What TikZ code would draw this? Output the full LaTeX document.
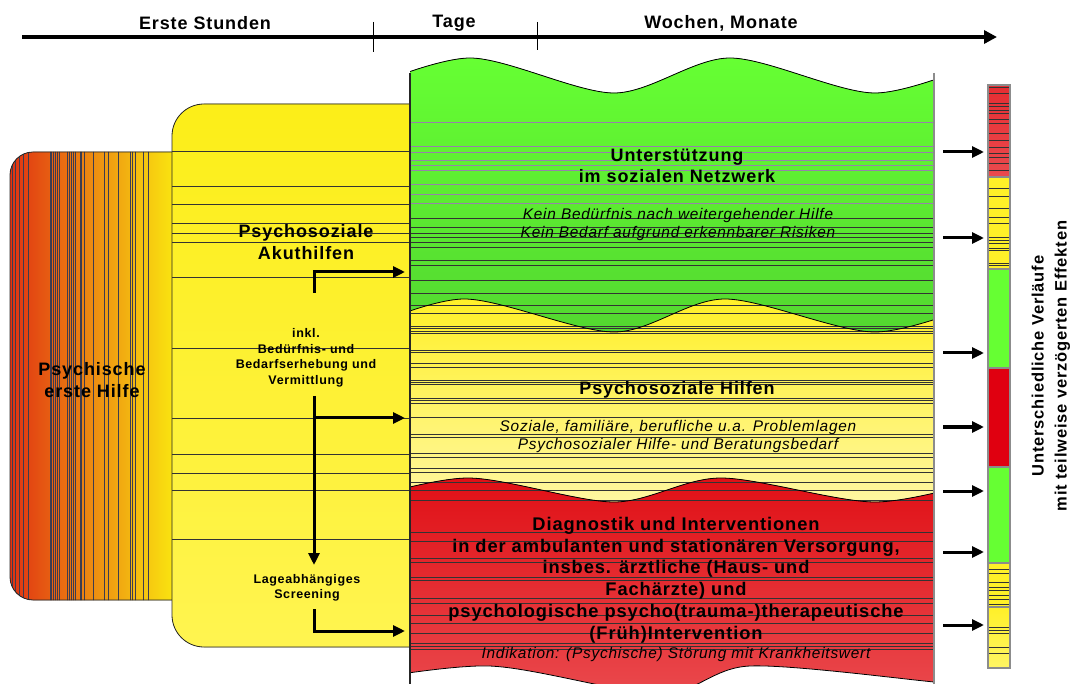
\documentclass[tikz,border=0pt]{standalone}
\usepackage{fontspec}
\setmainfont{Liberation Sans}
\newfontfamily\spf[LetterSpace=5]{Liberation Sans}
\usetikzlibrary{arrows.meta}
\definecolor{gtop}{RGB}{102,255,51}
\definecolor{gbot}{RGB}{82,214,48}
\definecolor{ytop}{RGB}{255,240,40}
\definecolor{ybot}{RGB}{255,247,165}
\definecolor{rtop}{RGB}{224,16,22}
\definecolor{rbot}{RGB}{234,74,78}
\definecolor{obl}{RGB}{224,50,18}
\definecolor{obr}{RGB}{250,230,16}
\definecolor{yb1}{RGB}{252,238,24}
\definecolor{yb2}{RGB}{255,244,80}
\definecolor{bgray}{RGB}{140,140,140}
\definecolor{lpurp}{RGB}{150,130,170}
\definecolor{vgray}{RGB}{60,60,80}
\definecolor{barred}{RGB}{230,45,50}
\definecolor{barred2}{RGB}{224,0,16}
\definecolor{baryel}{RGB}{255,240,40}
\definecolor{baryel2}{RGB}{255,245,100}
\begin{document}
\begin{tikzpicture}[x=1pt,y=-1pt,
  hl/.style={line width=0.5pt, draw=black!80},
  hll/.style={line width=0.5pt, draw=lpurp},
  vl/.style={line width=0.4pt, draw=vgray},
  arr/.style={line width=3pt, -{Triangle[length=12pt,width=11pt]}},
  tline/.style={line width=4.5pt, -{Triangle[length=13pt,width=13pt]}},
  hdr/.style={font=\spf\bfseries\fontsize{18}{20}\selectfont, inner sep=0pt},
  ttl/.style={font=\spf\bfseries\fontsize{18}{21.5}\selectfont, align=center, inner sep=0pt},
  ttlr/.style={font=\spf\bfseries\fontsize{18.3}{21.8}\selectfont, align=center, inner sep=0pt},
  sml/.style={font=\spf\bfseries\fontsize{12.5}{15.5}\selectfont, align=center, inner sep=0pt},
  itl/.style={font=\spf\itshape\fontsize{15.4}{18}\selectfont, align=center, inner sep=0pt},
  vert/.style={font=\spf\bfseries\fontsize{16.5}{23}\selectfont, align=center, inner sep=0pt, rotate=90},
  segbox/.style={draw=bgray, line width=2.2pt},
]
\useasboundingbox (0,0) rectangle (1071,684);
\fill[white] (0,0) rectangle (1071,684);

% ---------- timeline ----------
\coordinate (tl0) at (22,37);
\coordinate (tl1) at (997,37);
\draw[tline] (tl0) -- (tl1);
\coordinate (tk1a) at (373,22); \coordinate (tk1b) at (373,52);
\coordinate (tk2a) at (537,22); \coordinate (tk2b) at (537,50);
\draw[line width=1pt] (tk1a) -- (tk1b);
\draw[line width=1pt] (tk2a) -- (tk2b);
\node[hdr] (h1) at (205,23) {Erste Stunden};
\node[hdr] (h2) at (454,23) {Tage};
\node[hdr] (h3) at (721,23) {Wochen, Monate};

% ---------- left orange box ----------
\begin{scope}
\path[clip] (200,152) [rounded corners=23pt] -- (10,152) -- (10,600) [sharp corners] -- (200,600) -- cycle;
\fill[left color=obl, right color=obr] (10,150) rectangle (175,602);
\foreach \x in {12,15,19,23,28,50,51,53,55,57,59,67,69,71,73,75,80,81,84,93,104,108,118,130,132,135,143,148}
  \draw[vl] (\x,150) -- (\x,602);
\end{scope}
\draw[line width=0.8pt, black!85] (200,152) [rounded corners=23pt] -- (10,152) -- (10,600) [sharp corners] -- (200,600);

% ---------- yellow box ----------
\fill[top color=yb1, bottom color=yb2] (430,104) [rounded corners=32pt] -- (172,104) -- (172,647) [sharp corners] -- (430,647) -- cycle;
\draw[line width=0.8pt, black!85] (430,104) [rounded corners=32pt] -- (172,104) -- (172,647) [sharp corners] -- (430,647);
\foreach \y in {151,186,204,223,233,242,277,348,418,454,473,490,539}
  \draw[hl] (172,\y) -- (410,\y);

% ---------- right panels ----------
\begin{scope}
\clip (410,40) rectangle (934,684);
\fill[top color=gtop, bottom color=gbot] plot[smooth] coordinates {(354,93) (470,58) (614,93) (730,58) (875,93) (991,58)} -- (991,345) -- (354,345) -- cycle;
\fill[top color=ytop, bottom color=ybot] plot[smooth] coordinates {(354,333) (464,299) (614,332) (725,299) (875,332) (991,299)} -- (991,510) -- (354,510) -- cycle;
\fill[top color=rtop, bottom color=rbot] plot[smooth] coordinates {(354,502) (468,478) (614,502) (721,478) (875,502) (991,478)} -- (991,700) -- (354,700) -- cycle;
\fill[white] plot[smooth] coordinates {(340,684) (489,666) (660,694) (750,666) (934,682) (1000,690)} -- (1000,710) -- (340,710) -- cycle;
\begin{scope}
\clip plot[smooth] coordinates {(354,93) (470,58) (614,93) (730,58) (875,93) (991,58)} -- (991,660) -- (354,660) -- cycle;
\foreach \y in {122,146,152,160,165,170,184,194,203}
  \draw[hll] (410,\y) -- (934,\y);
\foreach \y in {218,227,233,237,242,247,260,265,280,293,305,313,326,328,331,333,350,352,363,367,380,382,384,398,400,403,417,434,437,453,457,468,472,482,490,500,532,541,558,562,577,580,598,603,615,623,633,643,646,649}
  \draw[hl] (410,\y) -- (934,\y);
\end{scope}
\draw[line width=0.8pt] plot[smooth] coordinates {(354,93) (470,58) (614,93) (730,58) (875,93) (991,58)};
\draw[line width=0.8pt] plot[smooth] coordinates {(354,333) (464,299) (614,332) (725,299) (875,332) (991,299)};
\draw[line width=0.8pt] plot[smooth] coordinates {(354,502) (468,478) (614,502) (721,478) (875,502) (991,478)};
\draw[line width=0.8pt] plot[smooth] coordinates {(340,684) (489,666) (660,694) (750,666) (934,682) (1000,690)};
\end{scope}
\coordinate (pl0) at (410,73); \coordinate (pl1) at (410,684);
\coordinate (pr0) at (934,73); \coordinate (pr1) at (934,684);
\draw[line width=1.2pt, black!85] (pl0) -- (pl1);
\draw[line width=1.8pt, bgray] (pr0) -- (pr1);

% ---------- arrows in yellow box ----------
\coordinate (a1s) at (314,293); \coordinate (a1e) at (405,272);
\coordinate (a2s) at (314,396); \coordinate (a2e) at (314,565);
\coordinate (a2b) at (314,418); \coordinate (a2f) at (405,418);
\coordinate (a3s) at (314,609); \coordinate (a3e) at (405,631);
\draw[arr] (a1s) |- (a1e);
\draw[arr] (a2s) -- (a2e);
\draw[arr] (a2b) -- (a2f);
\draw[arr] (a3s) |- (a3e);

% ---------- side bar ----------
\fill[top color=barred, bottom color=rbot] (988,85) rectangle (1010,177);
\fill[baryel] (988,177) rectangle (1010,269);
\fill[gtop] (988,269) rectangle (1010,368);
\fill[barred2] (988,368) rectangle (1010,467);
\fill[gtop] (988,467) rectangle (1010,563);
\fill[baryel] (988,563) rectangle (1010,607);
\fill[top color=baryel, bottom color=baryel2] (988,607) rectangle (1010,668);
\foreach \y in {87,93,103,106,110,113,119,123,133,140,147,153,157,163,170,188,196,208,217,223,237,240,243,248,250,263,265,569,573,582,587,590,595,599,604,627,630,633,647,653}
  \draw[hl] (988,\y) -- (1010,\y);
\draw[segbox] (988,85) rectangle (1010,177);
\draw[segbox] (988,177) rectangle (1010,269);
\draw[segbox] (988,269) rectangle (1010,368);
\draw[segbox] (988,368) rectangle (1010,467);
\draw[segbox] (988,467) rectangle (1010,563);
\draw[segbox] (988,563) rectangle (1010,607);
\draw[segbox] (988,607) rectangle (1010,668);

\foreach \y [count=\i] in {152,238,353,427,491,552,625}{
  \coordinate (bs\i) at (943,\y);
  \coordinate (be\i) at (984,\y);
  \draw[arr] (bs\i) -- (be\i);
}

% ---------- texts ----------
\node[ttl] (t1) at (92,380) {Psychische\\erste Hilfe};
\node[ttl] (t2) at (306,242) {Psychosoziale\\Akuthilfen};
\node[sml] (t3) at (306,358) {inkl.\\Bedürfnis- und\\Bedarfserhebung und\\Vermittlung};
\node[sml] (t4) at (307,588) {Lageabhängiges\\Screening};
\node[ttl] (t5) at (677,166) {Unterstützung\\im sozialen Netzwerk};
\node[itl] (t6) at (678,225) {Kein Bedürfnis nach weitergehender Hilfe\\Kein Bedarf aufgrund erkennbarer Risiken};
\node[ttl] (t7) at (677,390) {Psychosoziale Hilfen};
\node[itl] (t8) at (678,437) {Soziale, familiäre, berufliche u.a. Problemlagen\\Psychosozialer Hilfe- und Beratungsbedarf};
\node[ttlr] (t9) at (676,580) {Diagnostik und Interventionen\\in der ambulanten und stationären Versorgung,\\insbes. ärztliche (Haus- und\\Fachärzte) und\\psychologische psycho(trauma-)therapeutische\\(Früh)Intervention};
\node[itl] (t10) at (676,655) {Indikation: (Psychische) Störung mit Krankheitswert};
\node[vert] (t11) at (1051,366) {Unterschiedliche Verläufe\\mit teilweise verzögerten Effekten};
\end{tikzpicture}
\end{document}
